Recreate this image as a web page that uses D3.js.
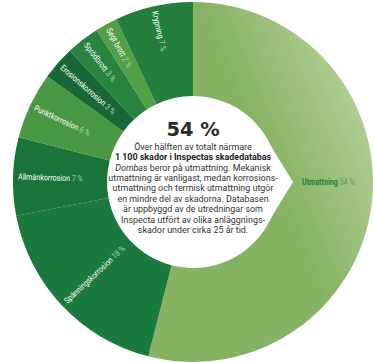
<!DOCTYPE html>
<html>
<head>
<meta charset="utf-8">
<script src="https://cdn.jsdelivr.net/npm/d3@7"></script>
<style>
  body { margin: 0; background: #fff; }
  svg { display: block; }
</style>
</head>
<body>
<div id="chart-area"></div>
<script>
const WIDTH = 373
const HEIGHT = 362
const CX = 193
const CY = 182
const R_OUT = 180
const R_IN = 86

// data
const categories = ["Utmattning", "Spänningskorrosion", "Allmänkorrosion", "Punktkorrosion",
  "Erosionskorrosion", "Sprödbrott", "Segt brott", "Krypning"]
const shares = [54, 18, 7, 6, 3, 3, 2, 7]
const shareLabels = ["54 %", "18 %", "7 %", "6 %", "3 %", "3 %", "2 %", "7 %"]
const sliceColors = ["url(#fatigue)", "#1c8141", "#1c7b3d", "#4ea146", "#1a6f3a", "#2b8b45", "#57aa4b", "#268642"]

const headline = "54 %"
const bodyLines = [
  [{ t: "Över hälften av totalt närmare" }],
  [{ t: "1 100 skador i Inspectas skadedatabas", b: true }],
  [{ t: "Dombas", i: true }, { t: " beror på utmattning. Mekanisk" }],
  [{ t: "utmattning är vanligast, medan korrosions-" }],
  [{ t: "utmattning och termisk utmattning utgör" }],
  [{ t: "en mindre del av skadorna. Databasen" }],
  [{ t: "är uppbyggd av de utredningar som" }],
  [{ t: "Inspecta utfört av olika anläggnings-" }],
  [{ t: "skador under cirka 25 år tid." }]
]

// condensed look: Roboto squeezed horizontally
const FONT = "Roboto, 'Noto Sans', sans-serif"
const SQUEEZE = 0.84

const svg = d3.select("#chart-area").append("svg")
  .attr("width", WIDTH)
  .attr("height", HEIGHT)

const defs = svg.append("defs")

// pale gradient of the big slice
const fat = defs.append("linearGradient")
  .attr("id", "fatigue")
  .attr("gradientUnits", "userSpaceOnUse")
  .attr("x1", CX - 10).attr("y1", CY + 60)
  .attr("x2", CX + R_OUT).attr("y2", CY - 20)
fat.append("stop").attr("offset", 0).attr("stop-color", "#85b363")
fat.append("stop").attr("offset", 0.45).attr("stop-color", "#a9c98a")
fat.append("stop").attr("offset", 1).attr("stop-color", "#eff4ec")

// soft shading over the dark slices
const shade = defs.append("radialGradient")
  .attr("id", "shade")
  .attr("gradientUnits", "userSpaceOnUse")
  .attr("cx", CX).attr("cy", CY).attr("r", R_OUT)
shade.append("stop").attr("offset", R_IN / R_OUT).attr("stop-color", "#fff").attr("stop-opacity", 0.1)
shade.append("stop").attr("offset", 1).attr("stop-color", "#000").attr("stop-opacity", 0.06)

const g = svg.append("g")
  .attr("transform", `translate(${CX}, ${CY})`)

const data = categories.map((c, i) => ({ name: c, value: shares[i], label: shareLabels[i], color: sliceColors[i] }))

const pie = d3.pie()
  .sort(null)
  .value(d => d.value)

const arc = d3.arc()
  .innerRadius(R_IN)
  .outerRadius(R_OUT)

const arcs = pie(data)

g.selectAll("path.slice")
  .data(arcs)
  .enter().append("path")
  .attr("class", "slice")
  .attr("d", arc)
  .attr("fill", d => d.data.color)

g.selectAll("path.shade")
  .data(arcs.slice(1))
  .enter().append("path")
  .attr("class", "shade")
  .attr("d", arc)
  .attr("fill", "url(#shade)")

// speech-bubble tip of the white hole, pointing at the big slice
const tipDist = 100
const tang = Math.acos(R_IN / tipDist)
g.append("path")
  .attr("d", `M${R_IN * Math.cos(tang) - 1},${-R_IN * Math.sin(tang)} L${tipDist},0 L${R_IN * Math.cos(tang) - 1},${R_IN * Math.sin(tang)} Z`)
  .attr("fill", "#fff")

// radial labels on the left hand slices
const R_LABEL = 175
arcs.slice(1).forEach(d => {
  const mid = (d.startAngle + d.endAngle) / 2
  const deg = mid * 180 / Math.PI
  const x = R_LABEL * Math.sin(mid)
  const y = -R_LABEL * Math.cos(mid)
  const t = g.append("text")
    .attr("transform", `translate(${x}, ${y}) rotate(${deg - 270}) scale(${SQUEEZE}, 1)`)
    .attr("dy", "0.35em")
    .attr("font-family", FONT)
    .attr("font-size", "8.5px")
    .attr("fill", "#fff")
  t.append("tspan").text(d.data.name + " ")
  t.append("tspan").attr("fill", "#a9d3a3").text(d.data.label)
})

// label of the big slice
const big = g.append("text")
  .attr("transform", `translate(109, 0) scale(${SQUEEZE}, 1)`)
  .attr("dy", "0.35em")
  .attr("font-family", FONT)
  .attr("font-size", "8.5px")
big.append("tspan").attr("fill", "#2b7d3c").attr("font-weight", "bold").text(data[0].name + " ")
big.append("tspan").attr("fill", "#5f9d5c").text(data[0].label)

// centre text
g.append("text")
  .attr("transform", `translate(0, -46) scale(0.97, 1)`)
  .attr("text-anchor", "middle")
  .attr("font-family", "'DejaVu Sans', sans-serif")
  .attr("font-weight", "bold")
  .attr("font-size", "20px")
  .attr("fill", "#2a2a2a")
  .text(headline)

const body = g.append("text")
  .attr("transform", `scale(0.94, 1)`)
  .attr("text-anchor", "middle")
  .attr("font-family", FONT)
  .attr("font-size", "9.5px")
  .attr("fill", "#333")

bodyLines.forEach((line, i) => {
  line.forEach((part, j) => {
    const ts = body.append("tspan").text(part.t)
    if (j === 0) ts.attr("x", 0).attr("y", -32.5 + i * 10.5)
    if (part.b) ts.attr("font-weight", "bold").attr("fill", "#1e1e1e")
    if (part.i) ts.attr("font-style", "italic")
  })
})
</script>
</body>
</html>
